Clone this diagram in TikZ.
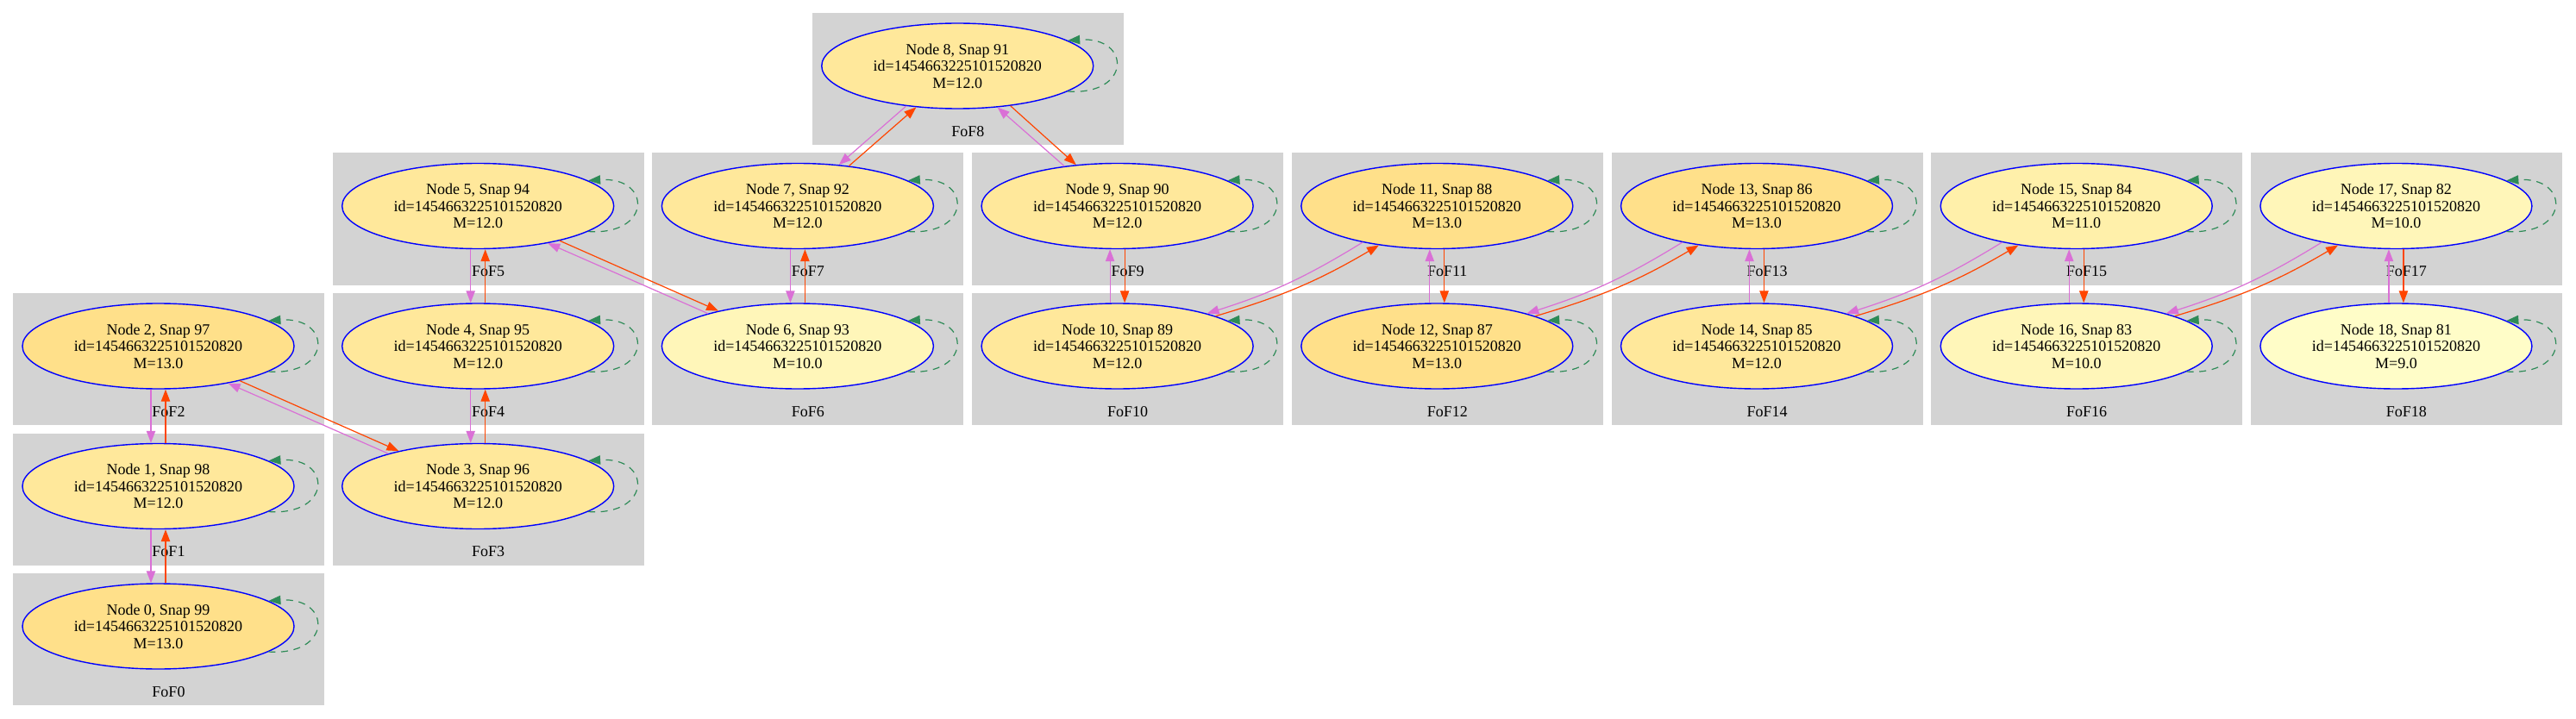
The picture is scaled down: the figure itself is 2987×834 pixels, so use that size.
\documentclass[tikz,border=0pt]{standalone}
\usepackage{fontspec}
\setmainfont{Liberation Serif}
\usetikzlibrary{shapes.geometric,arrows.meta}

\definecolor{clustergray}{HTML}{D3D3D3}
\definecolor{mA}{HTML}{FFE08A} % M=13
\definecolor{mB}{HTML}{FFE89B} % M=12
\definecolor{mC}{HTML}{FFF0AA} % M=11
\definecolor{mD}{HTML}{FFF6B9} % M=10
\definecolor{mE}{HTML}{FFFDC8} % M=9
\definecolor{descpink}{HTML}{DA70D6}
\definecolor{progred}{HTML}{FF4500}
\definecolor{loopgreen}{HTML}{2E8B57}

\begin{document}
\begin{tikzpicture}[x=0.5pt, y=-0.5pt,
    halo/.style={ellipse, draw=blue, line width=0.7pt, minimum width=157.5pt,
        minimum height=49.5pt, inner sep=0pt, align=center,
        font=\fontsize{9}{9.8}\selectfont},
    foflabel/.style={inner sep=0pt, font=\fontsize{9}{9.8}\selectfont},
    edgetip/.style={-{Triangle[length=7pt,width=5.2pt]}},
    descedge/.style={edgetip, draw=descpink, line width=0.6pt},
    progedge/.style={edgetip, draw=progred, line width=0.6pt},
    selfloop/.style={edgetip, draw=loopgreen, line width=0.6pt,
        dash pattern=on 4pt off 3.3pt}]

\fill[white] (0,0) rectangle (2987,834);
\useasboundingbox (0,0) rectangle (2987,834);

% Clusters and halo nodes: index / column / row / mass / fill
\foreach \i/\c/\r/\m/\col in {0/0/4/13.0/mA, 1/0/3/12.0/mB, 2/0/2/13.0/mA,
    3/1/3/12.0/mB, 4/1/2/12.0/mB, 5/1/1/12.0/mB, 6/2/2/10.0/mD, 7/2/1/12.0/mB,
    8/2.5/0/12.0/mB, 9/3/1/12.0/mB, 10/3/2/12.0/mB, 11/4/1/13.0/mA,
    12/4/2/13.0/mA, 13/5/1/13.0/mA, 14/5/2/12.0/mB, 15/6/1/11.0/mC,
    16/6/2/10.0/mD, 17/7/1/10.0/mD, 18/7/2/9.0/mE}
{
    \pgfmathsetmacro\cx{15+370.7*\c}
    \pgfmathsetmacro\cy{15+162.5*\r}
    \pgfmathtruncatemacro\snap{99-\i}
    \fill[clustergray] (\cx,\cy) rectangle ++(361,153);
    \node[foflabel] (lab\i) at (\cx+180.5,\cy+137.5) {FoF\i};
    \node[halo, fill=\col] (n\i) at (\cx+168.5,\cy+61.5)
        {Node \i, Snap \snap\\id=1454663225101520820\\M=\m};
}

% Stacked pairs: pink on the left, red on the right
\foreach \a/\b/\sa/\sb in {0/1/north/south, 1/2/north/south, 3/4/north/south,
    4/5/north/south, 6/7/north/south, 9/10/south/north, 11/12/south/north,
    13/14/south/north, 15/16/south/north, 17/18/south/north}
{
    \draw[descedge] ([xshift=-4.25pt]n\b.\sb) -- ([xshift=-4.25pt]n\a.\sa);
    \draw[progedge] ([xshift=4.25pt]n\a.\sa) -- ([xshift=4.25pt]n\b.\sb);
}

% Diagonal pairs, straight
\foreach \a/\b/\pb/\pa/\ra/\rb in {2/3/160/-28/-23/156, 5/6/160/-28/-23/156,
    7/8/218/45/38/225, 8/9/143/-46/-37/135}
{
    \draw[descedge] (n\b.\pb) -- (n\a.\pa);
    \draw[progedge] (n\a.\ra) -- (n\b.\rb);
}

% Diagonal pairs, slightly bent
\foreach \a/\b in {10/11, 12/13, 14/15, 16/17}
{
    \draw[descedge] (n\b.206) to[bend left=7] (n\a.20);
    \draw[progedge] (n\a.17) to[bend right=7] (n\b.214);
}

% Self loops
\foreach \i in {0,...,18}
    \draw[selfloop] (n\i.-13) .. controls +(74,5) and +(74,-5) .. (n\i.13);

\end{tikzpicture}
\end{document}
